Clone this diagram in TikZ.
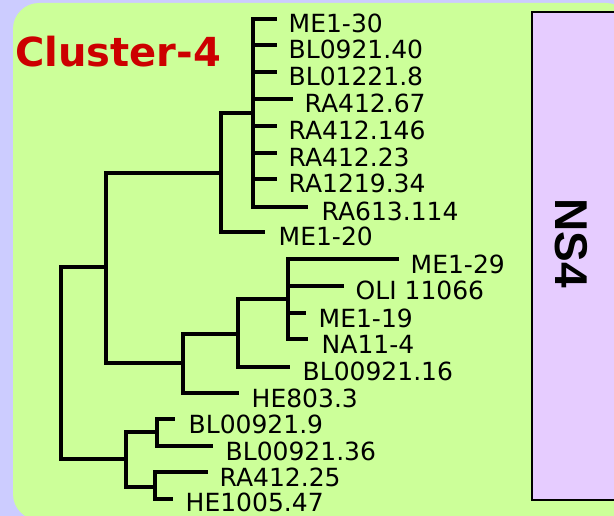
\documentclass[tikz,border=0pt]{standalone}
\usepackage{fontspec}
\newfontfamily\leaffont{DejaVu Sans}
\newfontfamily\headfont{DejaVu Sans}
\newfontfamily\boxfont{Liberation Sans}
\definecolor{pagebg}{RGB}{204,204,255}
\definecolor{panelgreen}{RGB}{204,255,153}
\definecolor{boxlilac}{RGB}{230,204,255}
\definecolor{titlered}{RGB}{204,0,0}
\tikzset{
  branch/.style={draw=black, line width=3.2pt, line cap=rect},
  leaf/.style={anchor=base west, inner sep=0pt, text depth=0pt, font=\leaffont\fontsize{25}{30}\selectfont},
}
\begin{document}
\begin{tikzpicture}[x=1pt, y=-1pt]
  \useasboundingbox (0,0) rectangle (614,516);
  \clip (0,0) rectangle (614,516);
  % backgrounds
  \fill[pagebg] (0,0) rectangle (614,516);
  \fill[panelgreen, rounded corners=26pt] (13,3) rectangle (632,520);
  \draw[line width=2pt, fill=boxlilac] (532,12) rectangle (650,500);
  \node[rotate=-90, inner sep=0pt, font=\boxfont\bfseries\fontsize{46}{50}\selectfont] (ns) at (571,243) {NS4};
  \node[anchor=base west, inner sep=0pt, text=titlered, font=\headfont\bfseries\fontsize{40}{44}\selectfont] (title) at (15,67) {Cluster-4};

  % internal nodes (x of the vertical bar, y where it joins its parent)
  \coordinate (root) at (61,363);
  \coordinate (up) at (106,267);
  \coordinate (na) at (221,173);
  \coordinate (na1) at (253,113);
  \coordinate (nb) at (183,363);
  \coordinate (nc) at (238,334);
  \coordinate (nd) at (288,299);
  \coordinate (lo) at (126,459);
  \coordinate (lo1) at (157,432);
  \coordinate (lo2) at (155,487);

  % leaf tips
  \coordinate (t1) at (275,19);
  \coordinate (t2) at (275,45);
  \coordinate (t3) at (275,72);
  \coordinate (t4) at (291,99);
  \coordinate (t5) at (275,126);
  \coordinate (t6) at (275,153);
  \coordinate (t7) at (275,179);
  \coordinate (t8) at (306,207);
  \coordinate (t9) at (263,232);
  \coordinate (t10) at (397,259);
  \coordinate (t11) at (342,286);
  \coordinate (t12) at (304,313);
  \coordinate (t13) at (306,339);
  \coordinate (t14) at (288,367);
  \coordinate (t15) at (237,393);
  \coordinate (t16) at (173,419);
  \coordinate (t17) at (211,446);
  \coordinate (t18) at (206,472);
  \coordinate (t19) at (171,499);

  % leaf labels
  \node[leaf] (l1) at (288.5,33) {ME1-30};
  \node[leaf] (l2) at (288.5,59) {BL0921.40};
  \node[leaf] (l3) at (288.5,86) {BL01221.8};
  \node[leaf] (l4) at (304.5,113) {RA412.67};
  \node[leaf] (l5) at (288.5,140) {RA412.146};
  \node[leaf] (l6) at (288.5,167) {RA412.23};
  \node[leaf] (l7) at (288.5,193) {RA1219.34};
  \node[leaf] (l8) at (321.5,221) {RA613.114};
  \node[leaf] (l9) at (278.5,246) {ME1-20};
  \node[leaf] (l10) at (410.5,273) {ME1-29};
  \node[leaf] (l11) at (355.5,300) {OLI 11066};
  \node[leaf] (l12) at (318.5,327) {ME1-19};
  \node[leaf] (l13) at (321.5,353) {NA11-4};
  \node[leaf] (l14) at (302.5,381) {BL00921.16};
  \node[leaf] (l15) at (251.5,407) {HE803.3};
  \node[leaf] (l16) at (188.5,433) {BL00921.9};
  \node[leaf] (l17) at (225.5,460) {BL00921.36};
  \node[leaf] (l18) at (219.5,486) {RA412.25};
  \node[leaf] (l19) at (185.5,511) {HE1005.47};

  % vertical bars of the internal nodes
  \draw[branch] (root |- up) -- (root |- lo);
  \draw[branch] (up |- na) -- (up |- nb);
  \draw[branch] (na |- na1) -- (na |- t9);
  \draw[branch] (na1 |- t1) -- (na1 |- t8);
  \draw[branch] (nb |- nc) -- (nb |- t15);
  \draw[branch] (nc |- nd) -- (nc |- t14);
  \draw[branch] (nd |- t10) -- (nd |- t13);
  \draw[branch] (lo |- lo1) -- (lo |- lo2);
  \draw[branch] (lo1 |- t16) -- (lo1 |- t17);
  \draw[branch] (lo2 |- t18) -- (lo2 |- t19);

  % branches between internal nodes
  \draw[branch] (root |- up) -- (up);
  \draw[branch] (root |- lo) -- (lo);
  \draw[branch] (up |- na) -- (na);
  \draw[branch] (up |- nb) -- (nb);
  \draw[branch] (na |- na1) -- (na1);
  \draw[branch] (nb |- nc) -- (nc);
  \draw[branch] (nc |- nd) -- (nd);
  \draw[branch] (lo |- lo1) -- (lo1);
  \draw[branch] (lo |- lo2) -- (lo2);

  % branches to the leaves
  \foreach \t in {t1,t2,t3,t4,t5,t6,t7,t8} \draw[branch] (na1 |- \t) -- (\t);
  \draw[branch] (na |- t9) -- (t9);
  \foreach \t in {t10,t11,t12,t13} \draw[branch] (nd |- \t) -- (\t);
  \draw[branch] (nc |- t14) -- (t14);
  \draw[branch] (nb |- t15) -- (t15);
  \draw[branch] (lo1 |- t16) -- (t16);
  \draw[branch] (lo1 |- t17) -- (t17);
  \draw[branch] (lo2 |- t18) -- (t18);
  \draw[branch] (lo2 |- t19) -- (t19);
\end{tikzpicture}
\end{document}
